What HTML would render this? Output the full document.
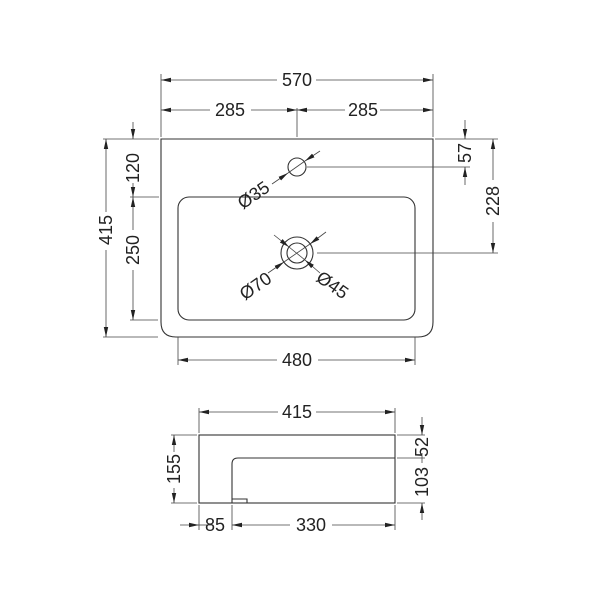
<!DOCTYPE html>
<html><head><style>body{margin:0;background:#fff}svg{display:block}text{font-family:"Liberation Sans",sans-serif;font-size:18px;fill:#222}</style></head><body>
<svg width="600" height="600" viewBox="0 0 600 600" xmlns="http://www.w3.org/2000/svg">
<defs><marker id="a" markerWidth="10" markerHeight="6" refX="10" refY="3" orient="auto-start-reverse" markerUnits="userSpaceOnUse"><path d="M0,0.8 L10,3 L0,5.2z" fill="#222"/></marker></defs>
<g fill="none" stroke="#333" stroke-width="1.1">
<path d="M161,139 H433 V322 Q433,337 418,337 H176 Q161,337 161,322 Z"/>
<rect x="178" y="197" width="237" height="123" rx="11"/>
<circle cx="297" cy="167" r="9"/>
<circle cx="297" cy="253" r="16"/>
<circle cx="297" cy="253" r="10"/>
</g>
<g fill="none" stroke="#444" stroke-width="0.8">
<line x1="161" y1="74" x2="161" y2="137"/><line x1="433" y1="74" x2="433" y2="137"/>
<line x1="297" y1="108" x2="297" y2="137"/>
<line x1="103" y1="139" x2="159" y2="139"/><line x1="103" y1="337" x2="158" y2="337"/>
<line x1="130" y1="197" x2="159" y2="197"/><line x1="130" y1="320" x2="158" y2="320"/>
<line x1="435" y1="139" x2="498" y2="139"/>
<line x1="307" y1="167" x2="470" y2="167"/>
<line x1="317" y1="253" x2="498" y2="253"/>
<line x1="178" y1="337" x2="178" y2="365"/><line x1="415" y1="337" x2="415" y2="365"/>
<line x1="161" y1="80" x2="277" y2="80" marker-start="url(#a)"/><line x1="316" y1="80" x2="433" y2="80" marker-end="url(#a)"/>
<line x1="161" y1="110" x2="210" y2="110" marker-start="url(#a)"/><line x1="251" y1="110" x2="297" y2="110" marker-end="url(#a)"/>
<line x1="297" y1="110" x2="345" y2="110" marker-start="url(#a)"/><line x1="380" y1="110" x2="433" y2="110" marker-end="url(#a)"/>
<line x1="106" y1="139" x2="106" y2="212" marker-start="url(#a)"/><line x1="106" y1="250" x2="106" y2="337" marker-end="url(#a)"/>
<line x1="133" y1="122" x2="133" y2="139" marker-end="url(#a)"/><line x1="133" y1="183" x2="133" y2="197" marker-end="url(#a)"/>
<line x1="133" y1="197" x2="133" y2="230" marker-start="url(#a)"/><line x1="133" y1="270" x2="133" y2="320" marker-end="url(#a)"/>
<line x1="465" y1="120" x2="465" y2="139" marker-end="url(#a)"/><line x1="465" y1="185" x2="465" y2="167" marker-end="url(#a)"/>
<line x1="493" y1="139" x2="493" y2="180" marker-start="url(#a)"/><line x1="493" y1="222" x2="493" y2="253" marker-end="url(#a)"/>
<line x1="178" y1="360" x2="277" y2="360" marker-start="url(#a)"/><line x1="318" y1="360" x2="415" y2="360" marker-end="url(#a)"/>
<line x1="272" y1="184" x2="288" y2="173" marker-end="url(#a)"/><line x1="320" y1="151" x2="305" y2="161" marker-end="url(#a)"/>
<line x1="288" y1="173" x2="305" y2="161"/>
<line x1="268" y1="273" x2="284" y2="262" marker-end="url(#a)"/><line x1="326" y1="232" x2="310" y2="244" marker-end="url(#a)"/>
<line x1="284" y1="262" x2="310" y2="244"/>
<line x1="274" y1="235" x2="289" y2="247" marker-end="url(#a)"/><line x1="320" y1="273" x2="305" y2="260" marker-end="url(#a)"/>
<line x1="289" y1="247" x2="305" y2="260"/>
</g>
<g fill="#222" stroke="none">
<text x="297" y="86" text-anchor="middle">570</text>
<text x="230" y="116" text-anchor="middle">285</text>
<text x="363" y="116" text-anchor="middle">285</text>
<text transform="translate(112,230) rotate(-90)" text-anchor="middle">415</text>
<text transform="translate(139,168) rotate(-90)" text-anchor="middle">120</text>
<text transform="translate(139,250) rotate(-90)" text-anchor="middle">250</text>
<text transform="translate(471,153) rotate(-90)" text-anchor="middle">57</text>
<text transform="translate(499,201) rotate(-90)" text-anchor="middle">228</text>
<text x="297" y="366" text-anchor="middle">480</text>
<text transform="translate(257,200) rotate(-35)" text-anchor="middle">Ø35</text>
<text transform="translate(259,291) rotate(-35)" text-anchor="middle">Ø70</text>
<text transform="translate(329,290) rotate(35)" text-anchor="middle">Ø45</text>
</g>
<g fill="none" stroke="#333" stroke-width="1.1">
<rect x="199" y="435" width="196" height="68"/>
<path d="M232,503 V464 Q232,458 238,458 H395"/>
<path d="M232,499 H247 V503"/>
</g>
<g fill="none" stroke="#444" stroke-width="0.8">
<line x1="199" y1="408" x2="199" y2="433"/><line x1="395" y1="408" x2="395" y2="433"/>
<line x1="171" y1="435" x2="197" y2="435"/><line x1="171" y1="503" x2="197" y2="503"/>
<line x1="397" y1="435" x2="425" y2="435"/><line x1="397" y1="458" x2="425" y2="458"/><line x1="397" y1="503" x2="425" y2="503"/>
<line x1="199" y1="505" x2="199" y2="530"/><line x1="232" y1="505" x2="232" y2="530"/><line x1="395" y1="505" x2="395" y2="530"/>
<line x1="199" y1="412" x2="278" y2="412" marker-start="url(#a)"/><line x1="316" y1="412" x2="395" y2="412" marker-end="url(#a)"/>
<line x1="174" y1="435" x2="174" y2="452" marker-start="url(#a)"/><line x1="174" y1="488" x2="174" y2="503" marker-end="url(#a)"/>
<line x1="422" y1="417" x2="422" y2="435" marker-end="url(#a)"/>
<line x1="422" y1="520" x2="422" y2="503" marker-end="url(#a)"/>
<line x1="422" y1="453" x2="422" y2="463"/>
<line x1="180" y1="525" x2="199" y2="525" marker-end="url(#a)"/><line x1="212" y1="525" x2="199" y2="525"/>
<line x1="232" y1="525" x2="290" y2="525" marker-start="url(#a)"/><line x1="332" y1="525" x2="395" y2="525" marker-end="url(#a)"/>
</g>
<g fill="#222">
<text x="297" y="418" text-anchor="middle">415</text>
<text transform="translate(180,469) rotate(-90)" text-anchor="middle">155</text>
<text transform="translate(428,447) rotate(-90)" text-anchor="middle">52</text>
<text transform="translate(428,482) rotate(-90)" text-anchor="middle">103</text>
<text x="215" y="531" text-anchor="middle">85</text>
<text x="311" y="531" text-anchor="middle">330</text>
</g>
</svg>
</body></html>
